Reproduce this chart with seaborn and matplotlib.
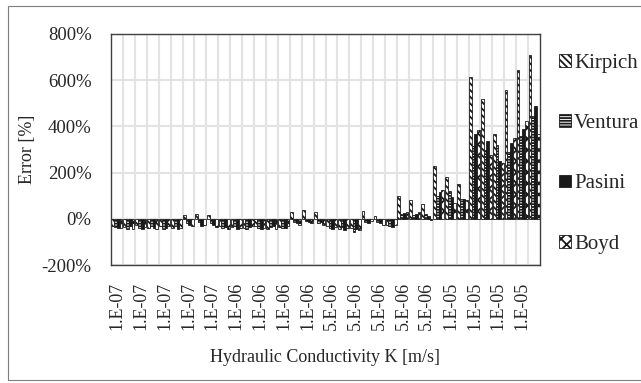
import numpy as np
import pandas as pd
import matplotlib
matplotlib.use("Agg")
import matplotlib.pyplot as plt
import seaborn as sns
from matplotlib.patches import Patch, Rectangle
from matplotlib.ticker import FuncFormatter, MultipleLocator

# ---------------- data ----------------
series = ["Kirpich", "Ventura", "Pasini", "Boyd"]
k_labels = (["1.E-07"] * 10 + ["1.E-06"] * 8 + ["5.E-06"] * 10 + ["1.E-05"] * 8)

kirpich = [-30, -35, -28, -40, -32, -38, 18, 20, 15, -30, -35, -40,
           -30, -42, -35, 30, 38, 30, -30, -45, -40, 35, 10, -25,
           100, 80, 65, 230, 181, 150, 615, 518, 365, 558, 646, 708]
ventura = [-35, -42, -40, -30, -45, -30, -20, -15, -20, -40, -30, -45,
           -38, -35, -40, -15, -10, -20, -40, -35, -55, -15, -15, -30,
           20, 15, 20, 97, 120, 85, 315, 300, 320, 290, 360, 445]
pasini = [-40, -30, -45, -38, -40, -42, -25, -30, -25, -35, -42, -35,
          -45, -30, -38, -20, -15, -15, -45, -50, -45, -20, -20, -35,
          25, 20, 10, 115, 95, 85, 365, 335, 250, 329, 387, 488]
boyd = [-38, -45, -35, -45, -30, -40, -30, -25, -35, -45, -38, -30,
        -40, -45, -32, -25, -20, -25, -35, -40, -50, -10, -25, -28,
        30, 30, -5, 126, 70, 80, 385, 275, 240, 350, 423, 365]

values = {"Kirpich": kirpich, "Ventura": ventura, "Pasini": pasini, "Boyd": boyd}
n = len(k_labels)
rows = []
for s in series:
    for i in range(n):
        rows.append({"idx": i, "model": s, "value": values[s][i]})
df = pd.DataFrame(rows)

# ---------------- style ----------------
sns.set_style("white")
plt.rcParams["font.family"] = ["Liberation Serif", "DejaVu Serif"]
plt.rcParams["hatch.linewidth"] = 1.3

styles = {
    "Kirpich": dict(facecolor="white", hatch="\\\\\\\\\\"),
    "Ventura": dict(facecolor="white", hatch="------"),
    "Pasini": dict(facecolor="#1a1a1a", hatch=None),
    "Boyd": dict(facecolor="white", hatch="xxx"),
}
edge = "#1a1a1a"

fig = plt.figure(figsize=(6.41, 3.83), dpi=100)
ax = fig.add_axes([111 / 641, 1 - 265 / 383, (540 - 111) / 641, (265 - 34) / 383])

sns.barplot(data=df, x="idx", y="value", hue="model", hue_order=series,
            order=list(range(n)), width=0.92, dodge=True, legend=False,
            palette=["white"] * 4, edgecolor=edge, linewidth=0.6, ax=ax,
            errorbar=None)

for cont, s in zip(ax.containers, series):
    for bar in cont:
        bar.set_facecolor(styles[s]["facecolor"])
        bar.set_edgecolor(edge)
        if styles[s]["hatch"]:
            bar.set_hatch(styles[s]["hatch"])

ax.set_ylim(-200, 800)
ax.set_xlim(-0.5, n - 0.5)
ax.yaxis.set_major_locator(MultipleLocator(200))
ax.yaxis.set_major_formatter(FuncFormatter(lambda v, p: f"{v:.0f}%"))

ax.set_xticks(list(range(0, n, 2)))
ax.set_xticklabels([k_labels[i] for i in range(0, n, 2)], rotation=90)
ax.set_xticks([i - 0.5 for i in range(1, n)], minor=True)
ax.tick_params(axis="x", which="both", length=0, pad=12, labelsize=13)
ax.tick_params(axis="y", length=0, pad=14, labelsize=13.5)

ax.grid(False)
ax.grid(axis="y", which="major", color="#e3e3e3", linewidth=1.5)
ax.grid(axis="x", which="minor", color="#e3e3e3", linewidth=1.5)
ax.set_axisbelow(True)

for sp in ax.spines.values():
    sp.set_visible(True)
    sp.set_color("#404040")
    sp.set_linewidth(1.0)

ax.set_xlabel("Hydraulic Conductivity K [m/s]", fontsize=13, labelpad=14)
ax.set_ylabel("Error [%]", fontsize=13, labelpad=4)

handles = [Patch(facecolor=styles[s]["facecolor"], edgecolor=edge,
                 hatch=styles[s]["hatch"], linewidth=0.6, label=s) for s in series]
leg = ax.legend(handles=handles, loc="upper left", bbox_to_anchor=(1.026, 0.95),
                frameon=False, fontsize=15, handlelength=0.55, handleheight=0.55,
                handletextpad=0.15, labelspacing=1.98, borderaxespad=0.0)

fig.patches.append(Rectangle((8 / 641, 3 / 383), 2, 374 / 383, transform=fig.transFigure,
                             fill=False, edgecolor="#7f7f7f", linewidth=0.8))

fig.savefig("out.png", dpi=100)
